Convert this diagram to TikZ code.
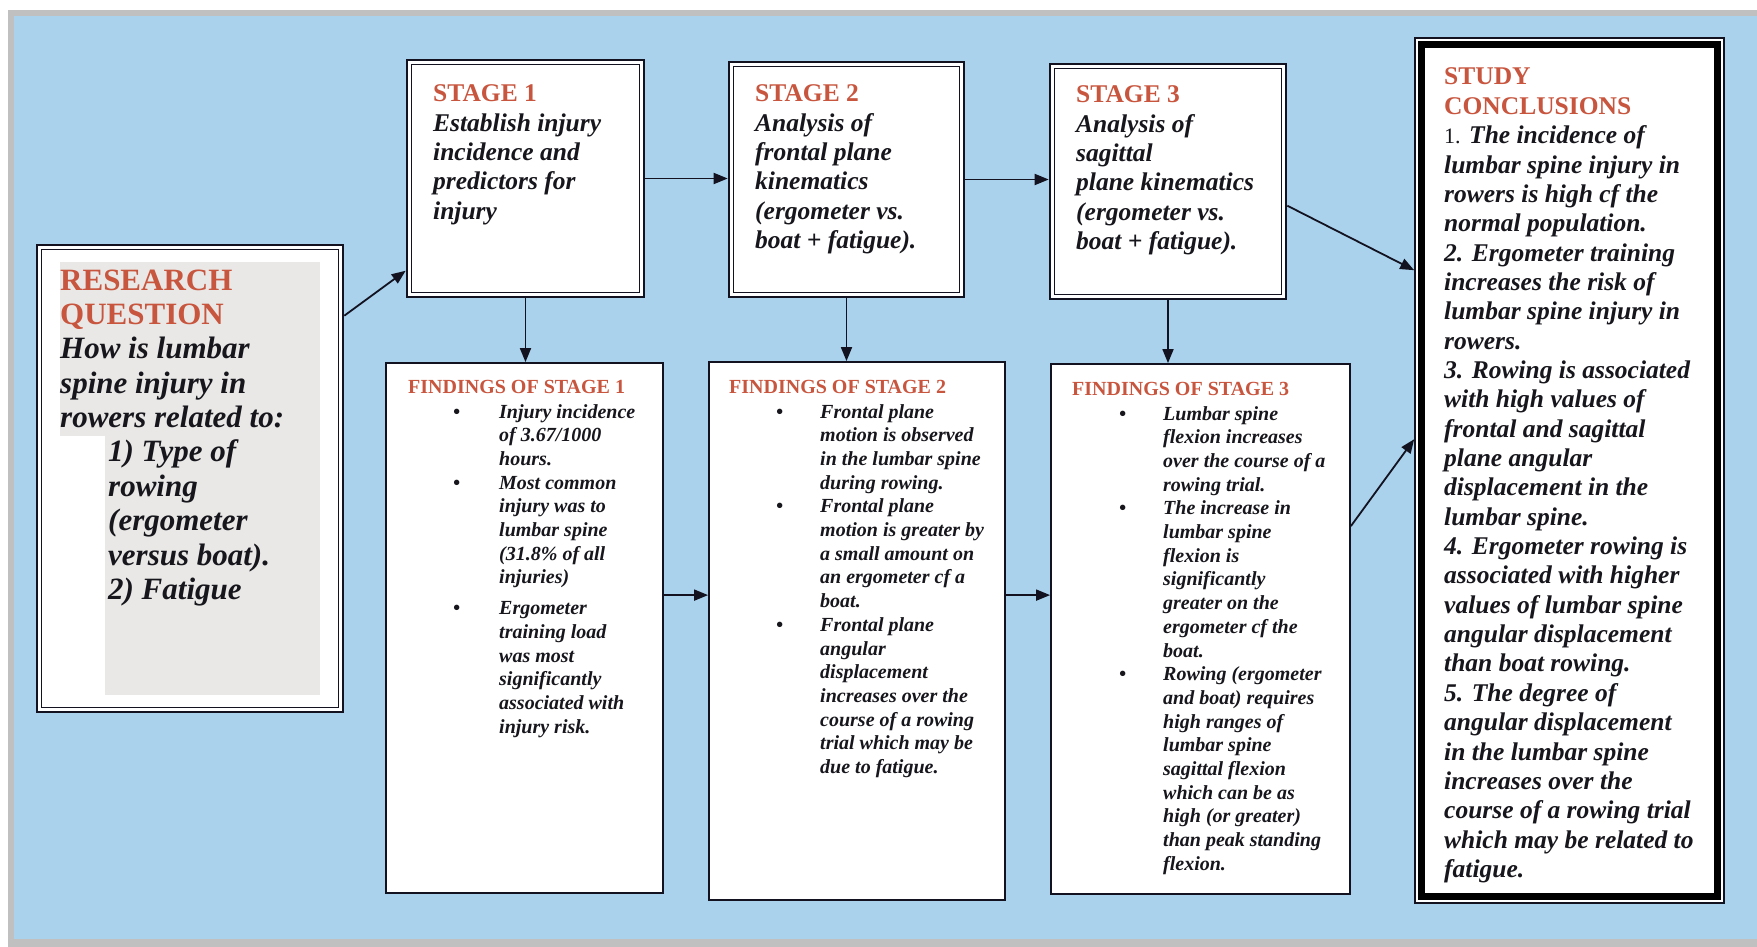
\documentclass[tikz,border=0pt]{standalone}
\usepackage{fontspec}
\setmainfont{Liberation Serif}
\usetikzlibrary{arrows.meta,calc}
\definecolor{bgblue}{RGB}{170,210,237}
\definecolor{framegray}{RGB}{192,192,192}
\definecolor{headred}{RGB}{200,85,62}
\definecolor{linedark}{RGB}{18,18,32}
\definecolor{qshade}{RGB}{233,232,230}
\definecolor{txt}{RGB}{22,22,28}
\newcommand{\TB}[4]{\vtop{\hsize=#1pt\parindent=0pt\parskip=0pt\leftskip=0pt\rightskip=0pt plus 1fil\def\\{\par}\fontsize{#2}{#3}\selectfont #4\par}}
\newcommand{\bul}[1]{\leavevmode\llap{\textbullet\hspace{#1pt}}\ignorespaces}
\newcommand{\ind}{\leavevmode\hspace*{48pt}\ignorespaces}
\tikzset{
  dblbox/.style={draw=linedark, line width=2.6pt, fill=white, inner sep=0pt},
  innerline/.style={draw=linedark, line width=1.4pt},
  findbox/.style={draw=linedark, line width=1.8pt, fill=white, inner sep=0pt},
  concbox/.style={draw=linedark, line width=1.6pt, fill=white, inner sep=0pt},
  concband/.style={draw=black, line width=6.5pt},
  arr/.style={draw=linedark, line width=1.8pt, -{Triangle[length=14pt,width=11pt]}},
  tb/.style={inner sep=0pt, anchor=base west, text=txt},
}
\newcommand{\dbox}[5]{%
  \node[dblbox, minimum width={#4-#2}, minimum height={#5-#3}] (#1) at ({(#2+#4)/2},{(#3+#5)/2}) {};
  \draw[innerline] ($(#1.north west)+(6,6)$) rectangle ($(#1.south east)+(-6,-6)$);
}
\begin{document}
\begin{tikzpicture}[x=1pt,y=-1pt]
\useasboundingbox (0,0) rectangle (1757,947);
\fill[white] (0,0) rectangle (1757,947);
\fill[framegray] (8,10) rectangle (1757,947);
\fill[bgblue] (14,16) rectangle (1757,939);

% boxes
\dbox{res}{37}{245}{343}{712}
\fill[qshade] (60,262) rectangle (320,436);
\fill[qshade] (105,436) rectangle (320,695);
\dbox{s1}{407}{60}{644}{297}
\dbox{s2}{729}{62}{964}{297}
\dbox{s3}{1050}{64}{1286}{299}
\node[findbox, minimum width=277, minimum height=530] (f1) at (524.5,628) {};
\node[findbox, minimum width=296, minimum height=538] (f2) at (857,631) {};
\node[findbox, minimum width=299, minimum height=530] (f3) at (1200.5,629) {};
\node[concbox, minimum width=309, minimum height=865] (conc) at (1569.5,470.5) {};
\draw[concband] ($(conc.north west)+(7.5,7.5)$) rectangle ($(conc.south east)+(-7.5,-7.5)$);

% texts
\node[tb] (rqt) at (60,290) {\TB{400}{31}{34.4}{\textcolor{headred}{\bfseries RESEARCH}\\
\textcolor{headred}{\bfseries QUESTION}\\
\bfseries\itshape How is lumbar\\ spine injury in\\ rowers related to:\\
\ind 1) Type of\\ \ind rowing\\ \ind (ergometer\\ \ind versus boat).\\ \ind 2) Fatigue}};

\node[tb] (s1t) at (433,102) {\TB{300}{25.5}{29.3}{\textcolor{headred}{\bfseries STAGE 1}\\
\bfseries\itshape Establish injury\\ incidence and\\ predictors for\\ injury}};
\node[tb] (s2t) at (755,102) {\TB{300}{25.5}{29.3}{\textcolor{headred}{\bfseries STAGE 2}\\
\bfseries\itshape Analysis of\\ frontal plane\\ kinematics\\ (ergometer vs.\\ boat + fatigue).}};
\node[tb] (s3t) at (1076,103) {\TB{300}{25.5}{29.3}{\textcolor{headred}{\bfseries STAGE 3}\\
\bfseries\itshape Analysis of\\ sagittal\\ plane kinematics\\ (ergometer vs.\\ boat + fatigue).}};

\node[tb, text=headred] (f1h) at (408,393) {\fontsize{20}{24}\selectfont\bfseries FINDINGS OF STAGE 1};
\node[tb, text=headred] (f2h) at (729,393) {\fontsize{20}{24}\selectfont\bfseries FINDINGS OF STAGE 2};
\node[tb, text=headred] (f3h) at (1072,395) {\fontsize{20}{24}\selectfont\bfseries FINDINGS OF STAGE 3};

\node[tb] (f1t) at (499,418) {\TB{300}{20}{23.7}{\bfseries\itshape
\bul{39} Injury incidence\\ of 3.67/1000\\ hours.\\
\bul{39} Most common\\ injury was to\\ lumbar spine\\ (31.8\% of all\\ injuries)\par\vspace{7pt}
\bul{39} Ergometer\\ training load\\ was most\\ significantly\\ associated with\\ injury risk.}};
\node[tb] (f2t) at (820,418) {\TB{300}{20}{23.7}{\bfseries\itshape
\bul{37} Frontal plane\\ motion is observed\\ in the lumbar spine\\ during rowing.\\
\bul{37} Frontal plane\\ motion is greater by\\ a small amount on\\ an ergometer cf a\\ boat.\\
\bul{37} Frontal plane\\ angular\\ displacement\\ increases over the\\ course of a rowing\\ trial which may be\\ due to fatigue.}};
\node[tb] (f3t) at (1163,420) {\TB{300}{20}{23.7}{\bfseries\itshape
\bul{37} Lumbar spine\\ flexion increases\\ over the course of a\\ rowing trial.\\
\bul{37} The increase in\\ lumbar spine\\ flexion is\\ significantly\\ greater on the\\ ergometer cf the\\ boat.\\
\bul{37} Rowing (ergometer\\ and boat) requires\\ high ranges of\\ lumbar spine\\ sagittal flexion\\ which can be as\\ high (or greater)\\ than peak standing\\ flexion.}};

\node[tb] (conct) at (1444,85) {\TB{300}{25.5}{29.35}{\textcolor{headred}{\bfseries STUDY}\\
\textcolor{headred}{\bfseries CONCLUSIONS}\\
\bfseries\itshape {\mdseries\upshape\fontsize{22}{29.35}\selectfont 1.} The incidence of\\
lumbar spine injury in\\ rowers is high cf the\\ normal population.\\
2. Ergometer training\\ increases the risk of\\ lumbar spine injury in\\ rowers.\\
3. Rowing is associated\\ with high values of\\ frontal and sagittal\\ plane angular\\ displacement in the\\ lumbar spine.\\
4. Ergometer rowing is\\ associated with higher\\ values of lumbar spine\\ angular displacement\\ than boat rowing.\\
5. The degree of\\ angular displacement\\ in the lumbar spine\\ increases over the\\ course of a rowing trial\\ which may be related to\\ fatigue.}};

% connectors
\draw[arr] ($(res.north east)+(0,72)$) -- ($(s1.north west)+(0,212)$);
\draw[arr] (s1.east) -- (s1.east -| s2.west);
\draw[arr] (s2.east) -- (s2.east -| s3.west);
\draw[arr] ($(s3.north east)+(0,143)$) -- ($(conc.north west)+(0,233)$);
\draw[arr] (s1.south) -- (s1.south |- f1.north);
\draw[arr] (s2.south) -- (s2.south |- f2.north);
\draw[arr] (s3.south) -- (s3.south |- f3.north);
\coordinate (f12) at ($(f1.north east)+(0,233)$);
\coordinate (f23) at ($(f2.north east)+(0,234)$);
\draw[arr] (f12) -- (f12 -| f2.west);
\draw[arr] (f23) -- (f23 -| f3.west);
\draw[arr] ($(f3.north east)+(0,163)$) -- ($(conc.north west)+(0,402)$);
\end{tikzpicture}
\end{document}
